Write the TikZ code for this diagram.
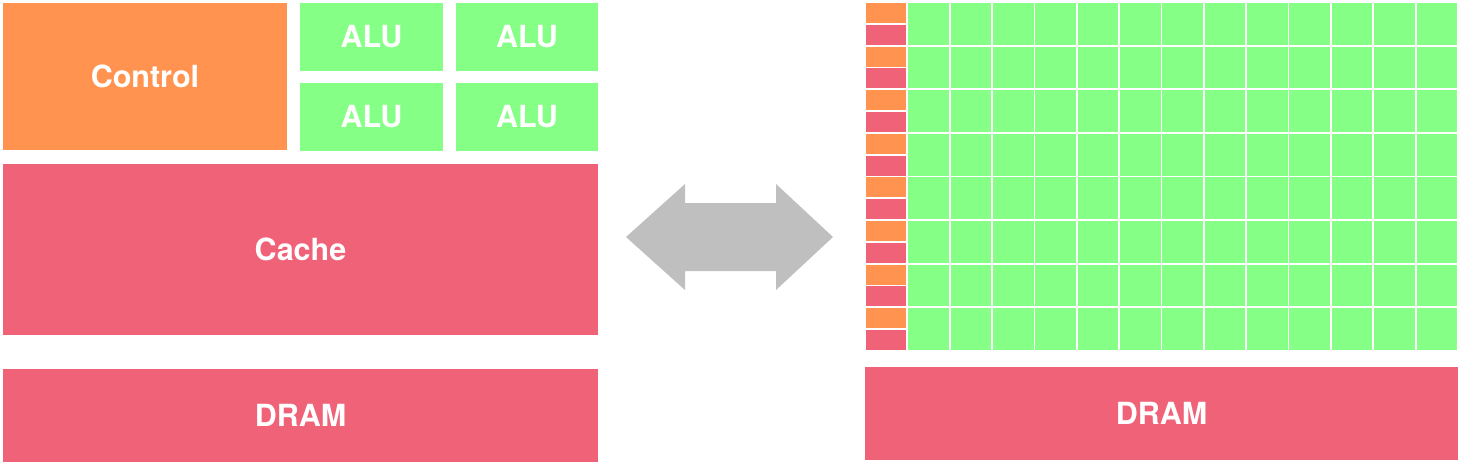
\documentclass[tikz,border=0pt]{standalone}
\usepackage{fontspec}
\setmainfont{TeX Gyre Heros}
\definecolor{corange}{HTML}{FF934F}
\definecolor{cgreen}{HTML}{86FF86}
\definecolor{cpink}{HTML}{F06277}
\definecolor{cgray}{HTML}{BFBFBF}
\begin{document}
\begin{tikzpicture}[x=1pt,y=-1pt,
  blk/.style={draw=white, line width=0.6pt, inner sep=0pt, outer sep=0pt,
    font=\fontsize{30.5}{30.5}\selectfont\bfseries, text=white},
  cell/.style={draw=white, line width=1.8pt}]
\useasboundingbox (0,0) rectangle (1462,475);
% CPU side
\node[blk, fill=corange, minimum width=285pt, minimum height=148pt] (control) at (145,76.5) {Control};
\node[blk, fill=cgreen, minimum width=144pt, minimum height=69pt] (alu1) at (371.5,37) {ALU};
\node[blk, fill=cgreen, minimum width=143pt, minimum height=69pt] (alu2) at (527,37) {ALU};
\node[blk, fill=cgreen, minimum width=144pt, minimum height=69pt] (alu3) at (371.5,116.5) {ALU};
\node[blk, fill=cgreen, minimum width=143pt, minimum height=69pt] (alu4) at (527,116.5) {ALU};
\node[blk, fill=cpink, minimum width=596pt, minimum height=172pt] (cache) at (300.5,249) {Cache};
\node[blk, fill=cpink, minimum width=596pt, minimum height=94pt] (dram1) at (300.5,415.5) {DRAM};
% arrow
\fill[cgray] (626,237) -- (685,184) -- (685,203) -- (776,203) -- (776,184) -- (833,237)
  -- (776,290) -- (776,271) -- (685,271) -- (685,290) -- cycle;
% GPU side
\foreach \r in {0,...,7}{
  \pgfmathsetmacro{\yt}{2+\r*43.625}
  \pgfmathsetmacro{\ym}{2+\r*43.625+21.8125}
  \pgfmathsetmacro{\yb}{2+(\r+1)*43.625}
  \fill[cell, fill=corange] (865,\yt) rectangle (907.36,\ym);
  \fill[cell, fill=cpink] (865,\ym) rectangle (907.36,\yb);
  \foreach \c in {1,...,13}{
    \pgfmathsetmacro{\xl}{865+\c*42.357}
    \pgfmathsetmacro{\xr}{865+(\c+1)*42.357}
    \fill[cell, fill=cgreen] (\xl,\yt) rectangle (\xr,\yb);
  }
}
\node[blk, fill=cpink, minimum width=594pt, minimum height=94pt] (dram2) at (1161.5,413.5) {DRAM};
\end{tikzpicture}
\end{document}
